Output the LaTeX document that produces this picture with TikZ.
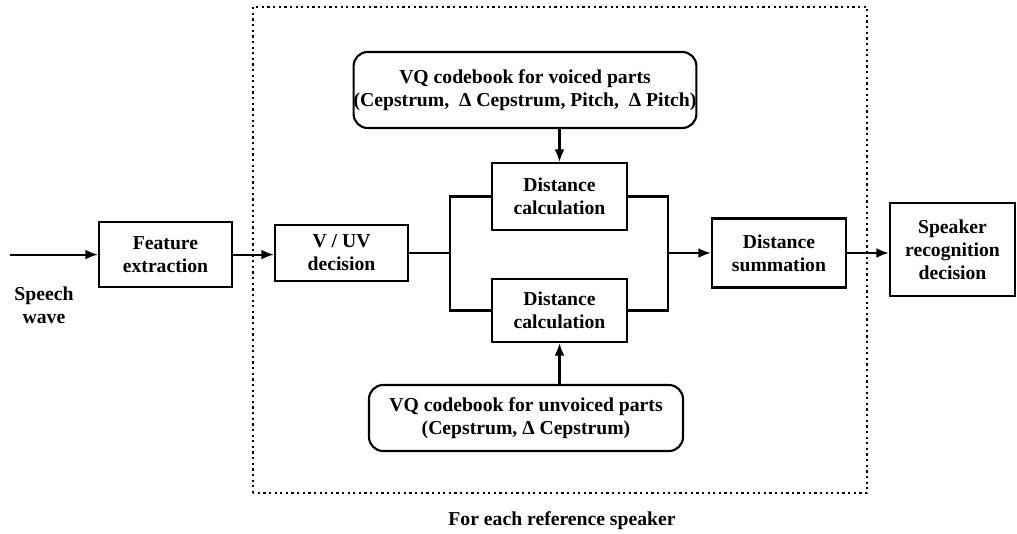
\documentclass[tikz,border=0pt]{standalone}
\usepackage{fontspec}
\setmainfont{Liberation Serif}
\usetikzlibrary{arrows.meta}

\begin{document}
\begin{tikzpicture}[
  blk/.style={draw, line width=1.5pt, align=center, inner sep=0pt, font=\fontsize{14}{16.5}\selectfont\bfseries},
  vqbox/.style={blk, rounded corners=10pt},
  lbl/.style={align=center, font=\fontsize{14}{16.5}\selectfont\bfseries},
  ln/.style={line width=1.5pt},
  arr/.style={ln, -{Latex[length=9pt,width=7pt]}}
]

  \begin{scope}
\useasboundingbox (0,0) rectangle (25.425,13.325);
\draw[line width=1.8pt, dash pattern=on 1.6pt off 2.4pt] (6.325,1.0) rectangle (21.675,13.15);

\node[blk, minimum width=3.325cm, minimum height=1.625cm] (feat) at (4.1375, 6.96) {Feature\\extraction};
\node[blk, minimum width=3.325cm, minimum height=1.4cm] (vuv) at (8.5375, 7.0) {V / UV\\decision};
\node[blk, minimum width=3.375cm, minimum height=1.675cm] (dtop) at (13.9875, 8.4125) {Distance\\calculation};
\node[blk, minimum width=3.375cm, minimum height=1.575cm] (dbot) at (13.9875, 5.5625) {Distance\\calculation};
\node[blk, minimum width=3.35cm, minimum height=1.725cm] (dsum) at (19.475, 7.0) {Distance\\summation};
\node[blk, minimum width=3.125cm, minimum height=2.325cm] (spk) at (23.8125, 7.0875) {Speaker\\recognition\\decision};
\node[vqbox, minimum width=7.85cm, minimum height=1.9cm] (vqv) at (13.125, 11.075) {VQ codebook for voiced parts\\(Cepstrum,~~Δ Cepstrum, Pitch,~~Δ Pitch)};
\node[vqbox, minimum width=7.85cm, minimum height=1.65cm] (vqu) at (13.15, 2.875) {VQ codebook for unvoiced parts\\(Cepstrum, Δ Cepstrum)};

\node[lbl] (wave) at (1.1, 5.7) {Speech\\wave};
\node[lbl] (cap) at (14.05, 0.3) {For each reference speaker};

\coordinate (in) at (0.25, 6.96);
\coordinate (split) at (11.25, 7.0);
\coordinate (merge) at (16.7, 7.0);

\draw[arr] (in) -- (feat);
\draw[arr] (feat.east) -- (feat.east -| vuv.west);
\draw[ln] (vuv) -- (split);
\draw[ln] (dtop.west) -| (split) |- (dbot.west);
\draw[ln] (dtop.east) -| (merge) |- (dbot.east);
\draw[arr] (merge) -- (dsum);
\draw[arr] (dsum.east) -- (dsum.east -| spk.west);
\draw[arr] (vqv.south -| dtop.north) -- (dtop.north);
\draw[arr] (vqu.north -| dbot.south) -- (dbot.south);
\end{scope}

\end{tikzpicture}
\end{document}
